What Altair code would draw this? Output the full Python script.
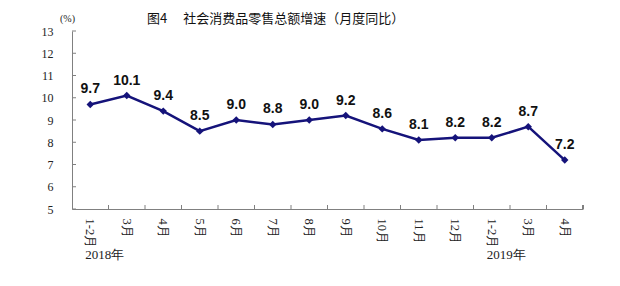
import json
import altair as alt
import pandas as pd

months = ["1-2月", "3月", "4月", "5月", "6月", "7月", "8月", "9月", "10月", "11月", "12月", "1-2月", "3月", "4月"]
values = [9.7, 10.1, 9.4, 8.5, 9.0, 8.8, 9.0, 9.2, 8.6, 8.1, 8.2, 8.2, 8.7, 7.2]
years = ["2018年", "2019年"]
year_index = [0, 11]
y_ticks = [5, 6, 7, 8, 9, 10, 11, 12, 13]

W, H = 511, 178
NAVY = "#15137a"
GRAY = "#808080"

df = pd.DataFrame({"i": list(range(len(months))), "v": values})
df_years = pd.DataFrame({"i": year_index, "t": years})
df_yt = pd.DataFrame({"v": y_ticks})
df_xt = pd.DataFrame({"i": list(range(1, len(months)))})

label_expr = json.dumps(months, ensure_ascii=False) + "[datum.value]"

xscale = alt.Scale(type="band", paddingInner=0, paddingOuter=0, domain=list(range(len(months))))
yscale = alt.Scale(domain=[5, 13], nice=False, zero=False)

x_axis = alt.Axis(
    title=None,
    labelExpr=label_expr,
    labelAngle=90,
    labelAlign="left",
    labelBaseline="middle",
    labelPadding=9,
    labelOverlap=False,
    ticks=False,
    domainColor=GRAY,
    labelFont="Liberation Serif",
    labelFontSize=12.5,
    labelColor="#222222",
)
y_axis = alt.Axis(
    values=y_ticks,
    tickCount=9,
    ticks=False,
    grid=False,
    labelPadding=19,
    labelOverlap=False,
    domainColor=GRAY,
    labelFont="Liberation Serif",
    labelFontSize=12,
    labelColor="#222222",
    title="(%)",
    titleAngle=0,
    titleX=-5,
    titleY=-13,
    titleAlign="center",
    titleBaseline="middle",
    titleFontSize=10,
    titleFontWeight="normal",
    titleFont="Liberation Serif",
    titleColor="#222222",
)

x_main = alt.X("i:O", scale=xscale, bandPosition=0.5, axis=x_axis)
x_edge = alt.X("i:O", scale=xscale, bandPosition=0, axis=x_axis)
y_main = alt.Y("v:Q", scale=yscale, axis=y_axis)

base = alt.Chart(df)
line = base.mark_line(color=NAVY, strokeWidth=2.5).encode(x=x_main, y=y_main)
pts = base.mark_point(shape="diamond", filled=True, color=NAVY, size=55, opacity=1).encode(x=x_main, y=y_main)
labels = base.mark_text(dy=-15, font="Liberation Sans", fontSize=14, fontWeight="bold", color="#111111").encode(
    x=x_main, y=y_main, text=alt.Text("v:Q", format=".1f")
)

yt = alt.Chart(df_yt).mark_rule(color=GRAY, strokeWidth=1).encode(
    y=y_main, x=alt.value(0), x2=alt.value(4)
)
xt = alt.Chart(df_xt).mark_rule(color=GRAY, strokeWidth=1).encode(
    x=x_edge, y=alt.value(H - 4), y2=alt.value(H)
)
xt_end = alt.Chart(df_yt).mark_rule(color=GRAY, strokeWidth=1).encode(
    x=alt.value(W), y=alt.value(H - 4), y2=alt.value(H)
)
year_txt = alt.Chart(df_years).mark_text(
    align="left", baseline="middle", dx=-5, font="Liberation Serif", fontSize=13, color="#222222"
).encode(x=x_main, y=alt.value(H + 46), text="t:N")

chart = alt.layer(line, pts, labels, yt, xt, xt_end, year_txt).properties(
    width=W,
    height=H,
    title=alt.Title(
        "图4　 社会消费品零售总额增速（月度同比）",
        anchor="start",
        dx=106,
        dy=19,
        offset=6,
        font="Noto Sans CJK SC",
        fontSize=13,
        fontWeight="normal",
        color="#111111",
    ),
    autosize=alt.AutoSizeParams(type="none"),
    padding={"left": 72, "top": 31, "right": 37, "bottom": 77},
).configure_view(stroke=None)

chart.save("out.html", embed_options={"renderer": "svg", "actions": False})
